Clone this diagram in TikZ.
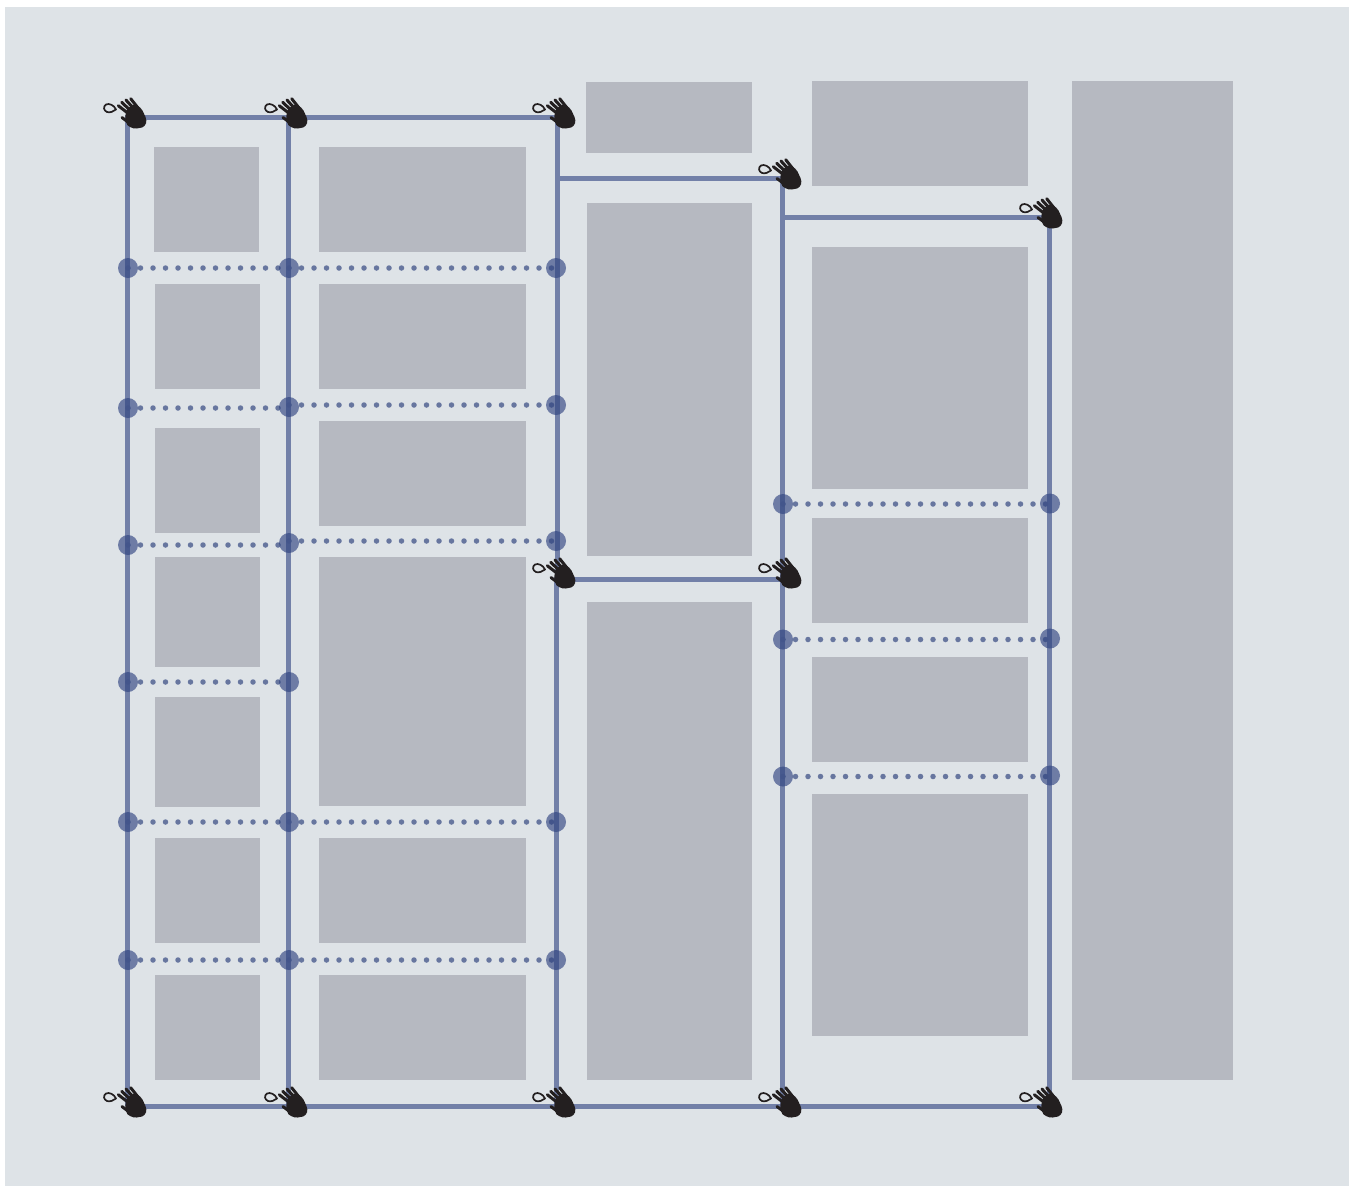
\documentclass[tikz,border=0pt]{standalone}
\usetikzlibrary{backgrounds}
\definecolor{bgc}{HTML}{DEE3E7}
\definecolor{boxc}{HTML}{B6B9C1}
\definecolor{wirec}{HTML}{7280A8}
\definecolor{padc}{HTML}{2F4380}
\definecolor{dotc}{HTML}{67769F}
\definecolor{handc}{HTML}{231F20}
\tikzset{
  x=1pt,y=-1pt,
  panel/.style={fill=boxc,draw=none},
  wire/.style={draw=wirec,line width=5pt},
  pad/.style={circle,fill=padc,fill opacity=.64,draw=none,minimum size=20pt,inner sep=0pt},
  stitch/.style={draw=dotc,line width=5.5pt,line cap=round,dash pattern=on 0pt off 12.5pt},
  hand/.pic={
    \draw[handc,line width=1.7pt,fill=bgc,line join=round] (-12,-7.5) .. controls (-14,-12) and (-19,-14) .. (-22,-12.5)
       .. controls (-25,-10.5) and (-24.5,-6.5) .. (-21,-5) .. controls (-18,-4) and (-14.5,-5.5) .. cycle;
    \fill[handc] plot[smooth cycle,tension=.8] coordinates {(-2,-5)(3,-11)(9,-11.5)(14.5,-6.5)(17.5,0)(18,6.3)(14,10.5)(8.7,11.5)(2,10)(-2,5)};
    \draw[handc,line width=3pt,line cap=round]
       (-9.7,-11.3)--(1,-3) (-6.3,-14.7)--(4,-5) (-2,-17)--(7,-7) (2.7,-18.3)--(10.3,-8.7) (-6,0.5)--(2,6.5);
  }
}
\newcommand{\panelbox}[5]{\node[panel,minimum width={(#4-#2)*1pt},minimum height={(#5-#3)*1pt},inner sep=0pt,outer sep=0pt,anchor=north west] (#1) at (#2,#3) {};}
\begin{document}
\begin{tikzpicture}
\useasboundingbox (0,0) rectangle (1351,1186);
\begin{scope}[on background layer]
\fill[white] (0,0) rectangle (1351,1186);
\fill[bgc] (5,7) rectangle (1349,1186);
% panels
\panelbox{a1}{154}{147}{259}{252}
\panelbox{a2}{155}{284}{260}{389}
\panelbox{a3}{155}{428}{260}{533}
\panelbox{a4}{155}{557}{260}{667}
\panelbox{a5}{155}{697}{260}{807}
\panelbox{a6}{155}{838}{260}{943}
\panelbox{a7}{155}{975}{260}{1080}
\panelbox{b1}{319}{147}{526}{252}
\panelbox{b2}{319}{284}{526}{389}
\panelbox{b3}{319}{421}{526}{526}
\panelbox{b4}{319}{557}{526}{806}
\panelbox{b5}{319}{838}{526}{943}
\panelbox{b6}{319}{975}{526}{1080}
\panelbox{c1}{586}{82}{752}{153}
\panelbox{c2}{587}{203}{752}{556}
\panelbox{c3}{587}{602}{752}{1080}
\panelbox{d1}{812}{81}{1028}{186}
\panelbox{d2}{812}{247}{1028}{489}
\panelbox{d3}{812}{518}{1028}{623}
\panelbox{d4}{812}{657}{1028}{762}
\panelbox{d5}{812}{794}{1028}{1036}
\panelbox{e1}{1072}{81}{1233}{1080}
% wire junctions
\coordinate (t1) at (127.7,117);
\coordinate (t2) at (288.7,117);
\coordinate (t3) at (557.7,117);
\coordinate (u3) at (557.7,178);
\coordinate (u4) at (782.7,178);
\coordinate (v4) at (782.7,217);
\coordinate (v5) at (1049.7,217);
\coordinate (m3a) at (557.7,579);
\coordinate (m3) at (556.7,579);
\coordinate (m4) at (782.7,579);
\coordinate (f1) at (127.7,1106);
\coordinate (f2) at (288.7,1106);
\coordinate (f3) at (556.7,1106);
\coordinate (f4) at (782.7,1106);
\coordinate (f5) at (1049.7,1106);
% wires
\draw[wire] (f1) -- (t1) -- (t3) -- (m3a) -- (m3) -- (f3);
\draw[wire] (t2) -- (f2);
\draw[wire] (u3) -- (u4) -- (f4);
\draw[wire] (v4) -- (v5) -- (f5);
\draw[wire] (m3) -- (m4);
\draw[wire] (f1) -- (f5);
\end{scope}
% pads
\node[pad] (p11) at (128,268) {};
\node[pad] (p12) at (289,268) {};
\node[pad] (p13) at (556,268) {};
\node[pad] (p21) at (128,408) {};
\node[pad] (p22) at (289,407) {};
\node[pad] (p23) at (556,405) {};
\node[pad] (p31) at (128,545) {};
\node[pad] (p32) at (289,543) {};
\node[pad] (p33) at (556,541) {};
\node[pad] (p41) at (128,682) {};
\node[pad] (p42) at (289,682) {};
\node[pad] (p51) at (128,822) {};
\node[pad] (p52) at (289,822) {};
\node[pad] (p53) at (556,822) {};
\node[pad] (p61) at (128,960) {};
\node[pad] (p62) at (289,960) {};
\node[pad] (p63) at (556,960) {};
\node[pad] (q11) at (783,504) {};
\node[pad] (q12) at (1050,503.5) {};
\node[pad] (q21) at (783,639.5) {};
\node[pad] (q22) at (1050,638.5) {};
\node[pad] (q31) at (783,776.5) {};
\node[pad] (q32) at (1050,775.5) {};
% stitches
\begin{scope}[on background layer]
\draw[stitch] (p11.center) -- (p12.center);
\draw[stitch] (p12.center) -- (p13.center);
\draw[stitch] (p21.center) -- (p22.center |- p21.center);
\draw[stitch] (p22.center |- p23.center) -- (p23.center);
\draw[stitch] (p31.center) -- (p32.center |- p31.center);
\draw[stitch] (p32.center |- p33.center) -- (p33.center);
\draw[stitch] (p41.center) -- (p42.center);
\draw[stitch] (p51.center) -- (p52.center);
\draw[stitch] (p52.center) -- (p53.center);
\draw[stitch] (p61.center) -- (p62.center);
\draw[stitch] (p62.center) -- (p63.center);
\draw[stitch] (q11.center) -- (q12.center |- q11.center);
\draw[stitch] (q21.center) -- (q22.center |- q21.center);
\draw[stitch] (q31.center) -- (q32.center |- q31.center);
\end{scope}
% hands
\pic at (128,117) {hand};
\pic at (289,117) {hand};
\pic at (557,117) {hand};
\pic at (783,178) {hand};
\pic at (1044,217) {hand};
\pic at (557,577) {hand};
\pic at (783,577) {hand};
\pic at (128,1106) {hand};
\pic at (289,1106) {hand};
\pic at (557,1106) {hand};
\pic at (783,1106) {hand};
\pic at (1044,1106) {hand};
\end{tikzpicture}
\end{document}
